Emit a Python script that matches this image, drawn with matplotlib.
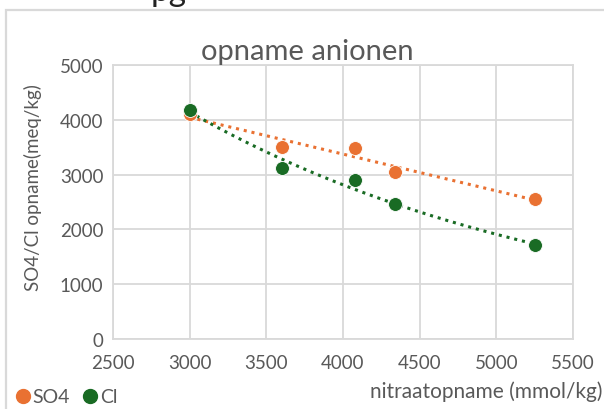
import numpy as np
import matplotlib
matplotlib.use("Agg")
import matplotlib.pyplot as plt
from matplotlib.patches import Rectangle
from matplotlib.lines import Line2D

plt.rcParams['font.family'] = ['Lato', 'DejaVu Sans']

# nitrate uptake (mmol/kg) and anion uptake (meq/kg)
nitraat = [3000, 3600, 4080, 4340, 5250]
so4 = [4110, 3500, 3480, 3040, 2560]
cl = [4170, 3120, 2900, 2460, 1710]

x_ticks = [2500, 3000, 3500, 4000, 4500, 5000, 5500]
y_ticks = [0, 1000, 2000, 3000, 4000, 5000]

c_so4 = '#E97132'
c_cl = '#196B24'
grid_c = '#D9D9D9'
text_c = '#595959'

W, H = 604, 410
fig = plt.figure(figsize=(W / 100, H / 100), dpi=100)

# outer chart frame
fig.patches.append(Rectangle((6 / W, -0.1), 1.2, 1 - 11 / H + 0.1,
                             transform=fig.transFigure, fill=False,
                             edgecolor='#D9D9D9', linewidth=1.6))
fig.text(151 / W, 1 - 1 / H, 'pg', fontsize=24, color='#222222',
         va='baseline', ha='left')

ax = fig.add_axes([113 / W, 1 - 340 / H, (573 - 113) / W, (340 - 66) / H])
ax.set_xlim(2500, 5500)
ax.set_ylim(0, 5000)
ax.set_xticks(x_ticks)
ax.set_yticks(y_ticks)
ax.grid(True, color=grid_c, linewidth=1.3)
ax.set_axisbelow(True)
for s in ax.spines.values():
    s.set_color(grid_c)
    s.set_linewidth(1.3)
ax.tick_params(length=0, labelsize=13.5, labelcolor=text_c)
ax.tick_params(axis='x', pad=11)
ax.tick_params(axis='y', pad=7)

x = np.array(nitraat, dtype=float)
xs = np.linspace(x.min(), x.max(), 200)

# linear trend for SO4
a, b = np.polyfit(x, so4, 1)
ax.plot(xs, a * xs + b, color=c_so4, linestyle=(0, (1, 1.6)), linewidth=2.2)
# exponential trend for Cl
k, c0 = np.polyfit(x, np.log(cl), 1)
ax.plot(xs, np.exp(c0 + k * xs), color=c_cl, linestyle=(0, (1, 1.6)), linewidth=2.2)

ax.plot(nitraat, so4, 'o', color=c_so4, markersize=10, markeredgecolor='white',
        markeredgewidth=0.6, zorder=3)
ax.plot(nitraat, cl, 'o', color=c_cl, markersize=10, markeredgecolor='white',
        markeredgewidth=0.6, zorder=4)

fig.text(307 / W, 1 - 52 / H, 'opname anionen', fontsize=21, color=text_c,
         ha='center', va='center')
fig.text(33 / W, 1 - 188 / H, 'SO4/Cl opname(meq/kg)', fontsize=13.5,
         color=text_c, rotation=90, ha='center', va='center')
fig.text(603 / W, 1 - 392 / H, 'nitraatopname (mmol/kg)', fontsize=15,
         color=text_c, ha='right', va='center')

handles = [Line2D([], [], marker='o', linestyle='none', color=c_so4, markersize=10),
           Line2D([], [], marker='o', linestyle='none', color=c_cl, markersize=10)]
fig.legend(handles, ['SO4', 'Cl'], loc='center left',
           bbox_to_anchor=(14 / W, 1 - 398 / H), ncol=2, frameon=False,
           fontsize=14, labelcolor=text_c, handletextpad=0.05,
           columnspacing=0.6, handlelength=0.9, borderaxespad=0, borderpad=0)

fig.savefig('out.png', dpi=100)
